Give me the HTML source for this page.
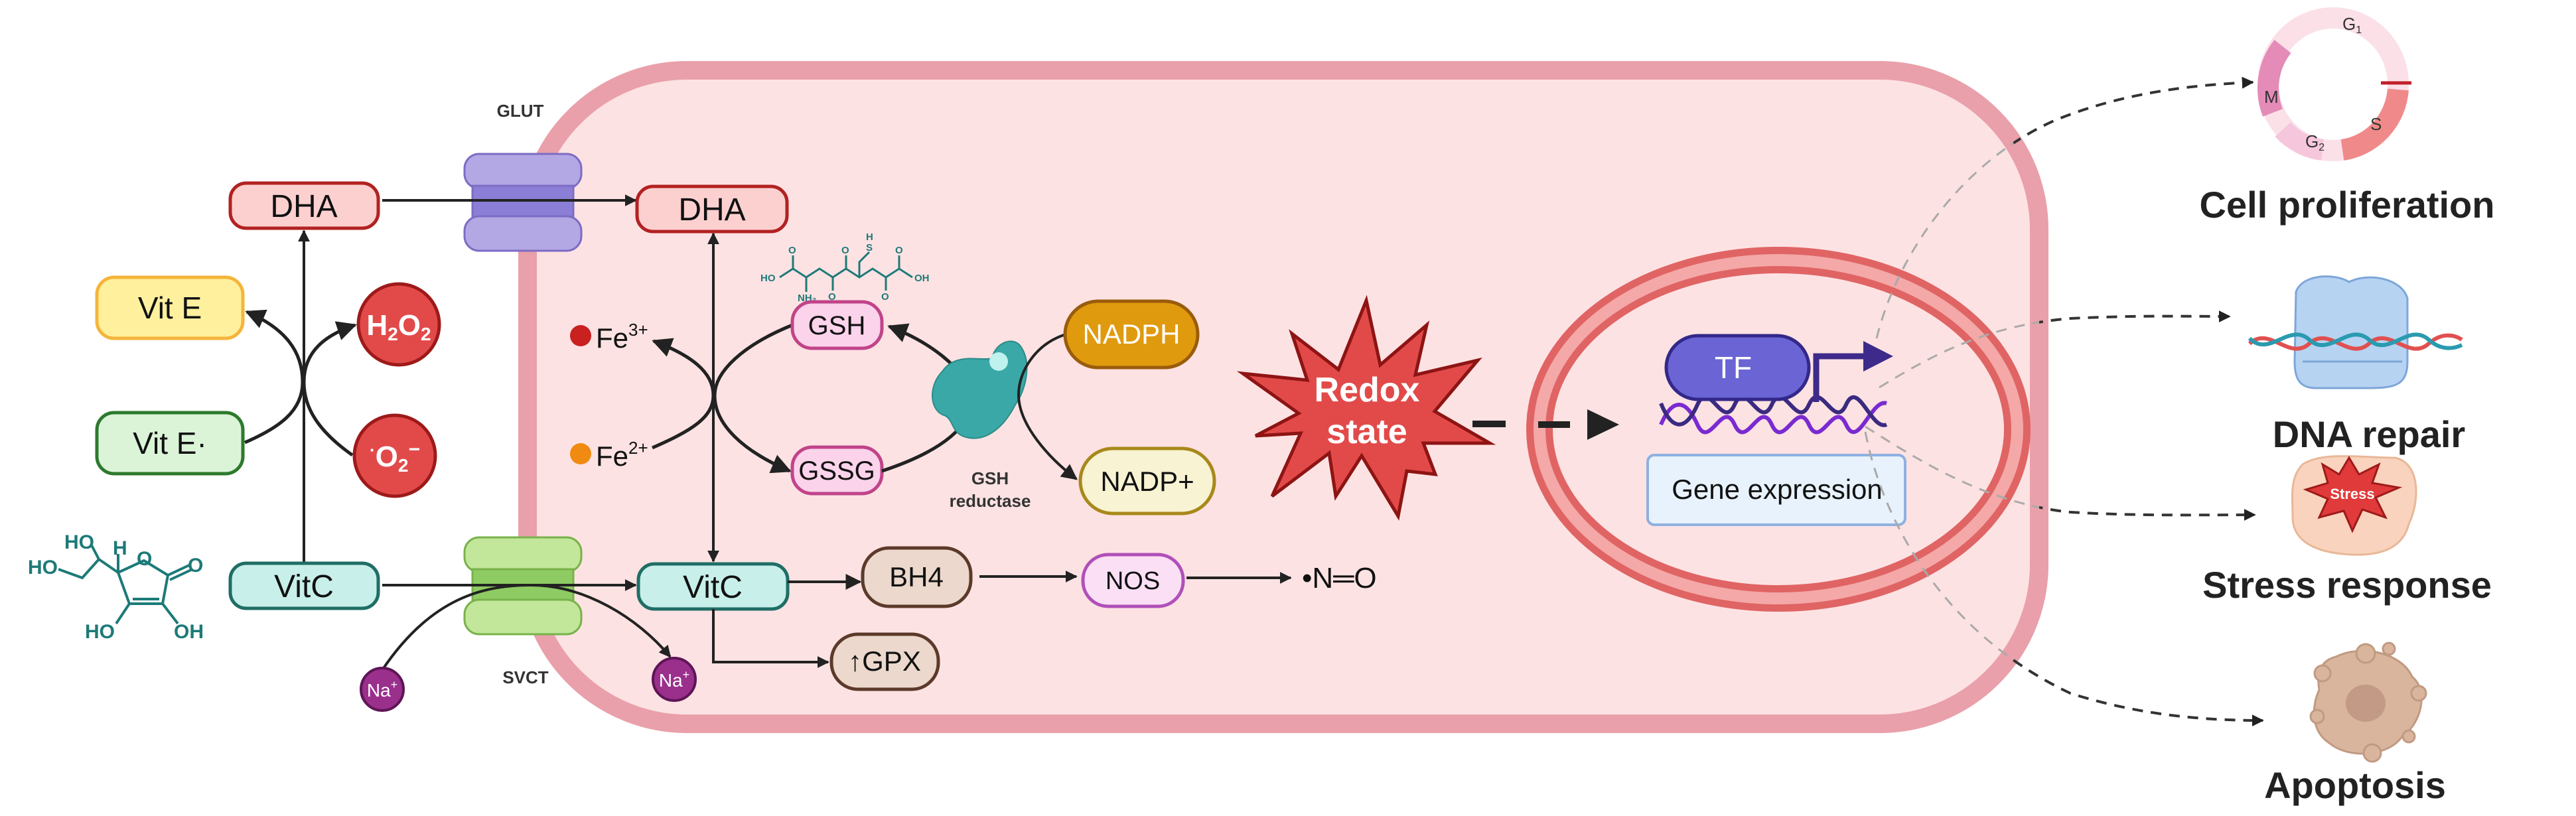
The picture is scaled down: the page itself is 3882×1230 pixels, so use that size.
<!DOCTYPE html>
<html><head><meta charset="utf-8"><style>
html,body{margin:0;padding:0;background:#fff;}
svg{display:block;}
text{font-family:"Liberation Sans",sans-serif;}
</style></head><body>
<svg width="3882" height="1230" viewBox="0 0 3882 1230" xmlns="http://www.w3.org/2000/svg">
<defs>
<marker id="ah" viewBox="0 0 10 10" refX="9" refY="5" markerWidth="6" markerHeight="6" orient="auto-start-reverse"><path d="M0,0 L10,5 L0,10 z" fill="#222"/></marker>
<marker id="ahs" viewBox="0 0 10 10" refX="9" refY="5" markerWidth="4.5" markerHeight="4.5" orient="auto-start-reverse"><path d="M0,0 L10,5 L0,10 z" fill="#222"/></marker>
<mask id="outside"><rect x="0" y="0" width="3882" height="1230" fill="#fff"/><rect x="795" y="106" width="2278" height="985" rx="240" fill="#000"/></mask>
</defs>

<!-- Cell -->
<rect x="795" y="106" width="2278" height="985" rx="240" fill="#fde2e3" stroke="#e9a0aa" stroke-width="28"/>

<!-- Nucleus -->
<ellipse cx="2680" cy="647" rx="360" ry="255" fill="#fde2e3" stroke="#e06464" stroke-width="40"/>
<ellipse cx="2680" cy="647" rx="360" ry="255" fill="none" stroke="#f4a8a8" stroke-width="18"/>

<!-- GLUT -->
<g>
<rect x="700" y="232" width="176" height="52" rx="22" fill="#b3a8e4" stroke="#7d6cc4" stroke-width="3"/>
<rect x="712" y="280" width="152" height="50" fill="#8a7ed6" stroke="#7d6cc4" stroke-width="3"/>
<rect x="700" y="326" width="176" height="52" rx="22" fill="#b3a8e4" stroke="#7d6cc4" stroke-width="3"/>
</g>
<text x="784" y="176" font-size="26" font-weight="bold" fill="#333" text-anchor="middle">GLUT</text>
<!-- SVCT -->
<g>
<rect x="700" y="810" width="176" height="52" rx="22" fill="#c2e69a" stroke="#78b24a" stroke-width="3"/>
<rect x="712" y="858" width="152" height="50" fill="#8ecb63" stroke="#78b24a" stroke-width="3"/>
<rect x="700" y="904" width="176" height="52" rx="22" fill="#c2e69a" stroke="#78b24a" stroke-width="3"/>
</g>
<text x="792" y="1030" font-size="26" font-weight="bold" fill="#333" text-anchor="middle">SVCT</text>

<!-- Lines left -->
<line x1="576" y1="302" x2="958" y2="302" stroke="#222" stroke-width="4" marker-end="url(#ahs)"/>
<line x1="576" y1="882" x2="958" y2="882" stroke="#222" stroke-width="4" marker-end="url(#ahs)"/>
<line x1="458" y1="849" x2="458" y2="348" stroke="#222" stroke-width="4" marker-end="url(#ahs)"/>
<path d="M576,1010 C650,900 730,882 800,882 C880,882 960,930 1010,990" fill="none" stroke="#222" stroke-width="4" marker-end="url(#ahs)"/>
<path d="M369,667 C420,645 456,620 456,576 C456,530 430,495 372,470" fill="none" stroke="#222" stroke-width="5" marker-end="url(#ah)"/>
<path d="M531,686 C480,650 458,615 458,576 C458,530 490,505 535,490" fill="none" stroke="#222" stroke-width="5" marker-end="url(#ah)"/>

<!-- Boxes left -->
<rect x="347" y="276" width="223" height="68" rx="24" fill="#fdd0d0" stroke="#b22222" stroke-width="5"/>
<text x="458" y="327" font-size="48" text-anchor="middle" fill="#111">DHA</text>
<rect x="146" y="418" width="220" height="92" rx="26" fill="#fff09e" stroke="#f5b43a" stroke-width="5"/>
<text x="256" y="480" font-size="46" text-anchor="middle" fill="#111">Vit E</text>
<rect x="146" y="622" width="220" height="92" rx="26" fill="#dbf4d8" stroke="#2d7a2d" stroke-width="5"/>
<text x="256" y="684" font-size="46" text-anchor="middle" fill="#111">Vit E·</text>
<rect x="347" y="849" width="223" height="68" rx="24" fill="#c8efea" stroke="#1f6e66" stroke-width="5"/>
<text x="458" y="900" font-size="48" text-anchor="middle" fill="#111">VitC</text>

<circle cx="601" cy="489" r="61" fill="#e24a4a" stroke="#9e1a1a" stroke-width="5"/>
<text x="601" y="505" font-size="44" font-weight="bold" text-anchor="middle" fill="#fff">H<tspan font-size="28" dy="8">2</tspan><tspan dy="-8">O</tspan><tspan font-size="28" dy="8">2</tspan></text>
<circle cx="595" cy="687" r="61" fill="#e24a4a" stroke="#9e1a1a" stroke-width="5"/>
<text x="595" y="703" font-size="44" font-weight="bold" text-anchor="middle" fill="#fff"><tspan font-size="26" dy="-16">·</tspan><tspan dy="16">O</tspan><tspan font-size="28" dy="8">2</tspan><tspan font-size="30" dy="-24">−</tspan></text>

<circle cx="576" cy="1039" r="32" fill="#9a2f8c" stroke="#5e1556" stroke-width="4"/>
<text x="576" y="1050" font-size="28" text-anchor="middle" fill="#fff">Na<tspan font-size="18" dy="-12">+</tspan></text>
<circle cx="1016" cy="1024" r="32" fill="#9a2f8c" stroke="#5e1556" stroke-width="4"/>
<text x="1016" y="1035" font-size="28" text-anchor="middle" fill="#fff">Na<tspan font-size="18" dy="-12">+</tspan></text>

<!-- Ascorbic acid -->
<g stroke="#1d7a78" stroke-width="4" fill="none">
<path d="M88,858 L124,871 L149,843 L178,863 L195,910 L245,910 L253,867 L217,845 L178,863"/>
<path d="M149,843 L138,822"/>
<path d="M195,910 L175,940"/><path d="M245,910 L268,940"/>
<path d="M253,867 L285,852"/><path d="M256,874 L288,859"/>
<path d="M200,903 L240,903"/>
<path d="M178,863 L178,835"/>
</g>
<g fill="#1d7a78" font-size="30" font-weight="bold">
<text x="42" y="865">HO</text><text x="97" y="827">HO</text><text x="170" y="836">H</text>
<text x="206" y="852">O</text><text x="283" y="862">O</text>
<text x="128" y="962">HO</text><text x="262" y="962">OH</text>
</g>

<!-- Inner -->
<line x1="1075" y1="352" x2="1075" y2="846" stroke="#222" stroke-width="4" marker-start="url(#ahs)" marker-end="url(#ahs)"/>
<rect x="960" y="281" width="226" height="68" rx="24" fill="#fdd0d0" stroke="#b22222" stroke-width="5"/>
<text x="1073" y="332" font-size="48" text-anchor="middle" fill="#111">DHA</text>
<rect x="962" y="850" width="225" height="68" rx="24" fill="#c8efea" stroke="#1f6e66" stroke-width="5"/>
<text x="1074" y="901" font-size="48" text-anchor="middle" fill="#111">VitC</text>

<circle cx="875" cy="506" r="16" fill="#c92020"/>
<text x="898" y="524" font-size="42" fill="#111">Fe<tspan font-size="26" dy="-18">3+</tspan></text>
<circle cx="875" cy="684" r="16" fill="#f08a10"/>
<text x="898" y="702" font-size="42" fill="#111">Fe<tspan font-size="26" dy="-18">2+</tspan></text>
<path d="M983,675 C1040,650 1075,630 1075,596 C1075,560 1040,535 985,514" fill="none" stroke="#222" stroke-width="5" marker-end="url(#ah)"/>
<path d="M1194,490 C1120,520 1077,560 1077,596 C1077,640 1120,680 1190,710" fill="none" stroke="#222" stroke-width="5" marker-end="url(#ah)"/>

<!-- GSH molecule -->
<g stroke="#1d7a78" stroke-width="3" fill="none">
<path d="M1175,418 L1195,405 L1215,418 L1235,405 L1255,418 L1275,405 L1295,418 L1315,405 L1335,418 L1355,405 L1375,418"/>
<path d="M1195,405 L1195,385"/><path d="M1255,418 L1255,438"/><path d="M1275,405 L1275,385"/>
<path d="M1295,418 L1295,395 L1310,380"/><path d="M1335,418 L1335,438"/><path d="M1355,405 L1355,385"/>
<path d="M1215,418 L1215,440"/>
</g>
<g fill="#1d7a78" font-size="15" font-weight="bold">
<text x="1146" y="424">HO</text><text x="1188" y="382">O</text><text x="1202" y="454">NH₂</text>
<text x="1248" y="452">O</text><text x="1268" y="382">O</text><text x="1305" y="378">S</text><text x="1305" y="362">H</text>
<text x="1328" y="452">O</text><text x="1349" y="382">O</text><text x="1378" y="424">OH</text>
</g>

<rect x="1194" y="455" width="135" height="70" rx="30" fill="#fbd3ea" stroke="#c0448a" stroke-width="5"/>
<text x="1261" y="504" font-size="40" text-anchor="middle" fill="#111">GSH</text>
<rect x="1194" y="674" width="135" height="70" rx="30" fill="#fbd3ea" stroke="#c0448a" stroke-width="5"/>
<text x="1261" y="723" font-size="40" text-anchor="middle" fill="#111">GSSG</text>
<path d="M1329,710 C1420,680 1470,640 1462,596 C1455,555 1400,515 1340,492" fill="none" stroke="#222" stroke-width="5" marker-end="url(#ah)"/>
<path d="M1420,560 C1440,530 1480,545 1495,540 C1500,515 1530,505 1540,525 C1555,550 1545,590 1530,610 C1515,640 1490,665 1460,660 C1430,655 1440,630 1420,625 C1400,615 1400,580 1420,560 Z" fill="#3aa8a6" stroke="#2b8c8a" stroke-width="2"/>
<circle cx="1505" cy="545" r="14" fill="#bff1ee"/>
<path d="M1603,505 C1560,520 1535,560 1535,595 C1535,640 1580,690 1622,722" fill="none" stroke="#222" stroke-width="4" marker-end="url(#ah)"/>
<text x="1492" y="730" font-size="26" font-weight="bold" text-anchor="middle" fill="#333">GSH</text>
<text x="1492" y="764" font-size="26" font-weight="bold" text-anchor="middle" fill="#333">reductase</text>
<rect x="1605" y="454" width="200" height="100" rx="50" fill="#e09a0e" stroke="#9a5c0c" stroke-width="5"/>
<text x="1705" y="518" font-size="42" text-anchor="middle" fill="#fff">NADPH</text>
<rect x="1628" y="676" width="202" height="98" rx="49" fill="#f7f3d3" stroke="#a8881a" stroke-width="5"/>
<text x="1729" y="740" font-size="42" text-anchor="middle" fill="#111">NADP+</text>

<line x1="1187" y1="877" x2="1296" y2="877" stroke="#222" stroke-width="4" marker-end="url(#ah)"/>
<rect x="1300" y="826" width="163" height="88" rx="40" fill="#ecd8cc" stroke="#5c3a2a" stroke-width="5"/>
<text x="1381" y="884" font-size="42" text-anchor="middle" fill="#111">BH4</text>
<line x1="1476" y1="869" x2="1622" y2="869" stroke="#222" stroke-width="4" marker-end="url(#ahs)"/>
<rect x="1632" y="836" width="151" height="78" rx="38" fill="#fbdff5" stroke="#b050b8" stroke-width="5"/>
<text x="1707" y="888" font-size="38" text-anchor="middle" fill="#111">NOS</text>
<line x1="1788" y1="871" x2="1945" y2="871" stroke="#222" stroke-width="4" marker-end="url(#ahs)"/>
<text x="1962" y="886" font-size="44" fill="#111">•N═O</text>
<path d="M1075,918 L1075,998 L1248,998" fill="none" stroke="#222" stroke-width="4" marker-end="url(#ahs)"/>
<rect x="1253" y="956" width="161" height="83" rx="40" fill="#ecd8cc" stroke="#5c3a2a" stroke-width="5"/>
<text x="1333" y="1011" font-size="42" text-anchor="middle" fill="#111">↑GPX</text>

<!-- Redox star -->
<polygon points="2059,453 2080,550 2150,490 2133,565 2227,543 2162,620 2245,668 2145,668 2163,715 2120,710 2107,778 2052,687 2013,748 2003,683 1917,748 1960,653 1892,657 1957,623 1873,563 1970,573 1947,503 2017,557" fill="#e24a4a" stroke="#8e1414" stroke-width="5" stroke-linejoin="miter"/>
<text x="2060" y="605" font-size="52" font-weight="bold" text-anchor="middle" fill="#fff">Redox</text>
<text x="2060" y="668" font-size="52" font-weight="bold" text-anchor="middle" fill="#fff">state</text>
<line x1="2219" y1="639" x2="2269" y2="639" stroke="#222" stroke-width="10"/>
<line x1="2318" y1="640" x2="2366" y2="640" stroke="#222" stroke-width="10"/>
<polygon points="2392,617 2440,640 2392,663" fill="#222"/>

<!-- TF and DNA -->
<g fill="none" stroke-width="6">
<path d="M2503,640 C2520,600 2540,600 2558,640 C2576,680 2596,600 2614,640 C2632,680 2652,600 2670,640 C2688,680 2708,600 2726,640 C2744,680 2764,600 2782,640 C2800,680 2820,600 2843,608" stroke="#7a2ad0"/>
<path d="M2503,608 C2520,650 2540,650 2558,610 C2576,570 2596,650 2614,610 C2632,570 2652,650 2670,610 C2688,570 2708,650 2726,610 C2744,570 2764,650 2782,610 C2800,570 2820,650 2843,640" stroke="#3a2a80"/>
</g>
<rect x="2511" y="506" width="215" height="96" rx="48" fill="#6a64d4" stroke="#33288a" stroke-width="5"/>
<text x="2612" y="570" font-size="46" text-anchor="middle" fill="#fff">TF</text>
<path d="M2737,606 L2737,537 L2815,537" fill="none" stroke="#3d2a8a" stroke-width="9"/>
<polygon points="2808,514 2853,537 2808,560" fill="#3d2a8a"/>
<rect x="2483" y="686" width="388" height="105" rx="10" fill="#e8f2fc" stroke="#8fb0e0" stroke-width="4"/>
<text x="2678" y="752" font-size="42" text-anchor="middle" fill="#111">Gene expression</text>

<!-- dashed arrows: gray inside, dark outside -->
<g fill="none" stroke-width="3" stroke-dasharray="16,12" stroke="#aaa">
<path d="M2828,510 C2860,380 2960,240 3100,180 C3200,140 3300,128 3395,124"/>
<path d="M2832,584 C2920,530 3000,490 3120,480 C3220,475 3300,477 3360,477"/>
<path d="M2811,643 C2900,700 3000,760 3120,772 C3220,778 3320,776 3398,776"/>
<path d="M2811,651 C2840,800 2940,960 3120,1045 C3230,1080 3330,1086 3410,1086"/>
</g>
<g fill="none" stroke-width="4" stroke-dasharray="16,12" stroke="#333" mask="url(#outside)">
<path d="M2828,510 C2860,380 2960,240 3100,180 C3200,140 3300,128 3395,124" marker-end="url(#ahs)"/>
<path d="M2832,584 C2920,530 3000,490 3120,480 C3220,475 3300,477 3360,477" marker-end="url(#ahs)"/>
<path d="M2811,643 C2900,700 3000,760 3120,772 C3220,778 3320,776 3398,776" marker-end="url(#ahs)"/>
<path d="M2811,651 C2840,800 2940,960 3120,1045 C3230,1080 3330,1086 3410,1086" marker-end="url(#ahs)"/>
</g>

<!-- Cell cycle -->
<g>
<ellipse cx="3516" cy="127" rx="98" ry="100" fill="none" stroke="#fbe0e8" stroke-width="32"/>
<path d="M3614,135 A98,100 0 0,1 3530,226" fill="none" stroke="#f08a8a" stroke-width="32"/>
<path d="M3500,226 A98,100 0 0,1 3440,195" fill="none" stroke="#f6c7dc" stroke-width="32"/>
<path d="M3425,170 A98,100 0 0,1 3440,70" fill="none" stroke="#e48bb8" stroke-width="32"/>
<line x1="3588" y1="125" x2="3634" y2="125" stroke="#c0202a" stroke-width="5"/>
<g font-size="26" fill="#333"><text x="3530" y="45">G<tspan font-size="16" dy="5">1</tspan></text><text x="3412" y="155">M</text><text x="3572" y="196">S</text><text x="3474" y="222">G<tspan font-size="16" dy="5">2</tspan></text></g>
</g>
<text x="3537" y="328" font-size="56" font-weight="bold" text-anchor="middle" fill="#222">Cell proliferation</text>

<g>
<path d="M3460,440 C3470,412 3520,412 3540,425 C3570,410 3620,420 3628,450 L3628,545 C3628,580 3610,585 3570,585 L3490,585 C3465,585 3458,570 3458,545 Z" fill="#b6d3f2" stroke="#7ea6d8" stroke-width="3"/>
<path d="M3470,545 L3620,545" stroke="#7ea6d8" stroke-width="3"/>
<path d="M3390,518 C3420,490 3450,545 3480,518 C3510,490 3540,545 3570,518 C3600,490 3630,545 3660,518 C3680,500 3700,505 3710,512" fill="none" stroke="#e05050" stroke-width="6"/>
<path d="M3390,510 C3420,540 3450,485 3480,512 C3510,540 3540,485 3570,512 C3600,540 3630,485 3660,512 C3680,530 3700,525 3710,520" fill="none" stroke="#2a9ab0" stroke-width="6"/>
</g>
<text x="3570" y="674" font-size="56" font-weight="bold" text-anchor="middle" fill="#222">DNA repair</text>

<path d="M3470,700 C3500,680 3560,690 3610,690 C3650,700 3645,760 3630,790 C3620,830 3580,840 3530,835 C3480,830 3455,810 3455,780 C3455,750 3450,720 3470,700 Z" fill="#f9d3bd" stroke="#e8b898" stroke-width="3"/>
<polygon points="3540,690 3555,715 3585,700 3575,728 3615,735 3580,750 3595,780 3560,768 3545,800 3532,770 3495,780 3508,752 3475,738 3508,728 3500,700 3525,715" fill="#e03a3a" stroke="#9e1a1a" stroke-width="3"/>
<text x="3545" y="752" font-size="22" font-weight="bold" text-anchor="middle" fill="#fff">Stress</text>
<text x="3537" y="901" font-size="56" font-weight="bold" text-anchor="middle" fill="#222">Stress response</text>

<g fill="#d9b59e" stroke="#c19a82" stroke-width="3">
<path d="M3520,990 C3560,970 3620,985 3635,1020 C3660,1040 3650,1090 3620,1110 C3600,1140 3540,1145 3510,1120 C3480,1100 3485,1060 3495,1040 C3490,1010 3500,995 3520,990 Z"/>
<circle cx="3565" cy="985" r="14"/><circle cx="3600" cy="978" r="9"/><circle cx="3645" cy="1045" r="11"/>
<circle cx="3492" cy="1080" r="10"/><circle cx="3500" cy="1015" r="12"/><circle cx="3575" cy="1135" r="13"/>
<circle cx="3630" cy="1110" r="9"/>
</g>
<ellipse cx="3565" cy="1060" rx="30" ry="28" fill="#c29a86"/>
<text x="3549" y="1203" font-size="56" font-weight="bold" text-anchor="middle" fill="#222">Apoptosis</text>
</svg>
</body></html>
